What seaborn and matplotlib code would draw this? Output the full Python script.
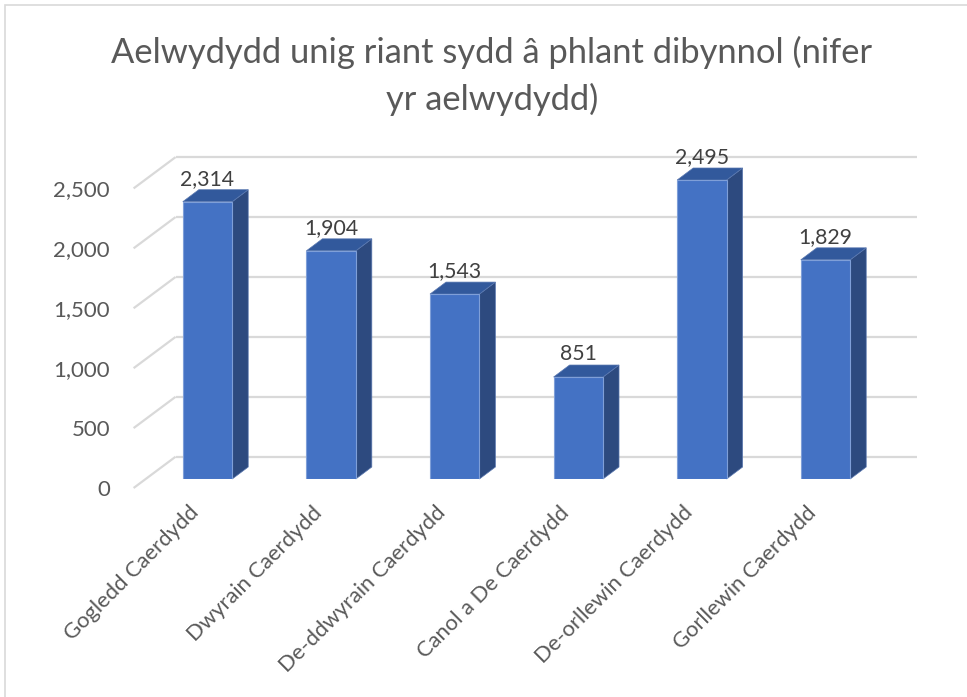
import matplotlib
matplotlib.use("Agg")
import matplotlib.pyplot as plt
import matplotlib.transforms as mtransforms
from matplotlib.patches import Polygon, Rectangle
import seaborn as sns
import pandas as pd
import numpy as np

# ---- data ----
categories = ["Gogledd Caerdydd", "Dwyrain Caerdydd", "De-ddwyrain Caerdydd",
              "Canol a De Caerdydd", "De-orllewin Caerdydd", "Gorllewin Caerdydd"]
values = [2314, 1904, 1543, 851, 2495, 1829]
y_ticks = [0, 500, 1000, 1500, 2000, 2500]
title = "Aelwydydd unig riant sydd â phlant dibynnol (nifer\nyr aelwydydd)"

df = pd.DataFrame({"ardal": categories, "nifer": values})

sns.set_theme(style="white")
FONT = ["Lato", "DejaVu Sans"]
plt.rcParams["font.family"] = FONT

W, H, DPI = 967, 697, 100
fig = plt.figure(figsize=(W / DPI, H / DPI), dpi=DPI)

# axes = front plane of the bars
ax_l, ax_r, ax_b, ax_t = 145.7, 887.3, 479.0, 179.4
ax = fig.add_axes([ax_l / W, (H - ax_b) / H, (ax_r - ax_l) / W, (ax_b - ax_t) / H])

FRONT = "#4472C4"
SIDE = "#2D4A7F"
TOP = "#32599C"
GRID = "#D9D9D9"
TXT = "#595959"

sns.barplot(data=df, x="ardal", y="nifer", width=0.4, color=FRONT, saturation=1,
            edgecolor="#7F9FD8", linewidth=0.8, ax=ax, zorder=3)
ax.set_xlim(-0.5, len(categories) - 0.5)
ax.set_ylim(0, 2500)
for s in ax.spines.values():
    s.set_visible(False)
ax.set_xlabel("")
ax.set_ylabel("")
ax.grid(False)

# pixel -> data conversions
px_x = (len(categories)) / (ax_r - ax_l)     # data units per pixel (x)
px_y = 2500 / (ax_b - ax_t)                  # data units per pixel (y)

# depth offsets (pixels, y up)
bar_dx, bar_dy = 16, 12
back_dx, back_dy = 29.9, 22.3
front_dx, front_dy = -12.1, -9.0

x0_wall, x1_wall = -0.5, len(categories) - 0.5
for t in y_ticks:
    # back wall line
    ax.plot([x0_wall + back_dx * px_x, x1_wall + back_dx * px_x],
            [t + back_dy * px_y, t + back_dy * px_y],
            color=GRID, lw=1.6, zorder=1, clip_on=False, solid_capstyle="butt")
    # left floor/side diagonal
    ax.plot([x0_wall + front_dx * px_x, x0_wall + back_dx * px_x],
            [t + front_dy * px_y, t + back_dy * px_y],
            color=GRID, lw=1.6, zorder=1, clip_on=False, solid_capstyle="butt")

# 3D side and top faces derived from seaborn's bars
ddx, ddy = bar_dx * px_x, bar_dy * px_y
for p, v in zip(ax.patches, values):
    x0 = p.get_x()
    x1 = x0 + p.get_width()
    h = p.get_height()
    side = Polygon([(x1, 0), (x1, h), (x1 + ddx, h + ddy), (x1 + ddx, ddy)],
                   closed=True, facecolor=SIDE, edgecolor="#5A78B0", lw=0.5,
                   zorder=2.5, clip_on=False)
    top = Polygon([(x0, h), (x1, h), (x1 + ddx, h + ddy), (x0 + ddx, h + ddy)],
                  closed=True, facecolor=TOP, edgecolor="#5A78B0", lw=0.5,
                  zorder=2.5, clip_on=False)
    ax.add_patch(side)
    ax.add_patch(top)
    ax.annotate(f"{v:,}", xy=(x0 + p.get_width() / 2, h), xytext=(0, 12.2),
                textcoords="offset points", ha="center", va="baseline",
                fontsize=15.3, color="#404040", zorder=5)

# tick labels
ax.set_yticks(y_ticks)
ax.set_yticklabels([f"{t:,}" for t in y_ticks])
ax.tick_params(axis="y", length=0, pad=17, labelsize=16, labelcolor=TXT)
ax.set_xticks(range(len(categories)))
ax.set_xticklabels(categories, rotation=45, ha="right", va="center",
                   rotation_mode="anchor")
ax.tick_params(axis="x", length=0, pad=15.5, labelsize=15.8, labelcolor=TXT)

off = mtransforms.ScaledTranslation(front_dx / DPI, front_dy / DPI, fig.dpi_scale_trans)
for lab in ax.get_yticklabels() + ax.get_xticklabels():
    lab.set_transform(lab.get_transform() + off)

fig.text(492 / W, 1 - 76 / H, title, ha="center", va="center", fontsize=24.8,
         color=TXT, linespacing=1.5)

# chart border
fig.patches.append(Rectangle((5 / W, -0.01), 1.0, 1 - 5 / H + 0.01,
                             transform=fig.transFigure, fill=False,
                             edgecolor="#D9D9D9", lw=1.2))

fig.savefig("out.png", dpi=DPI, facecolor="white")
